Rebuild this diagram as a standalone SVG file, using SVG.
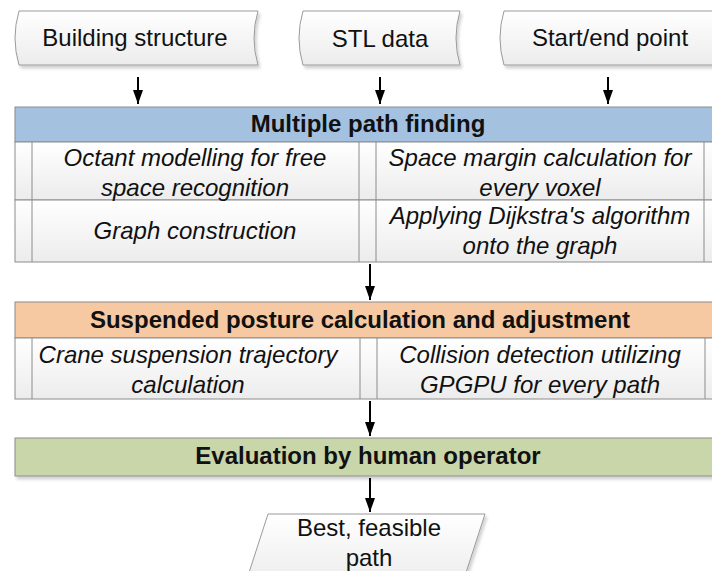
<svg xmlns="http://www.w3.org/2000/svg" width="712" height="571" viewBox="0 0 712 571">
<defs>
<linearGradient id="cellg" x1="0" y1="0" x2="0" y2="1">
<stop offset="0" stop-color="#ffffff"/>
<stop offset="1" stop-color="#ececec"/>
</linearGradient>
<filter id="sh" x="-5%" y="-20%" width="110%" height="150%">
<feDropShadow dx="2" dy="3" stdDeviation="1.5" flood-color="#000" flood-opacity="0.18"/>
</filter>
<marker id="ah" viewBox="0 0 14 10" refX="14" refY="5" markerWidth="14" markerHeight="10" markerUnits="userSpaceOnUse" orient="auto">
<path d="M0,0 L14,5 L0,10 Z" fill="#000"/>
</marker>
</defs>
<style>
.src{fill:url(#cellg);stroke:#9a9a9a;stroke-width:1}
.cell{fill:url(#cellg);stroke:#8c8c8c;stroke-width:1}
.ln{stroke:#8c8c8c;stroke-width:1;fill:none}
.hdr{stroke:#8c8c8c;stroke-width:1}
.t{font-family:"Liberation Sans",Arial,sans-serif;fill:#111;text-anchor:middle}
.lbl{font-size:24px}
.it{font-size:24px;font-style:italic}
.b{font-size:24px;font-weight:bold}
.con{stroke:#000;stroke-width:2;fill:none;marker-end:url(#ah)}
</style>
<rect width="712" height="571" fill="#fff"/>

<g id="building-structure">
<path class="src" filter="url(#sh)" d="M19,11 L258,11 Q250,38 258,65 L19,65 Q11,38 19,11 Z"/>
<text class="t lbl" x="135" y="46">Building structure</text>
</g>
<g id="stl-data">
<path class="src" filter="url(#sh)" d="M303,11 L460,11 Q452,38 460,65 L303,65 Q295,38 303,11 Z"/>
<text class="t lbl" x="380" y="47">STL data</text>
</g>
<g id="start-end-point">
<path class="src" filter="url(#sh)" d="M504,11 L720,11 L720,65 L504,65 Q496,38 504,11 Z"/>
<text class="t lbl" x="610" y="46">Start/end point</text>
</g>

<g id="multiple-path-finding">
<rect class="hdr" filter="url(#sh)" x="15" y="107" width="705" height="35" fill="#a4c2e0"/>
<text class="t b" x="368" y="132">Multiple path finding</text>
<rect class="cell" x="15" y="142" width="705" height="58"/>
<rect class="cell" x="15" y="200" width="705" height="62"/>
<line class="ln" x1="32" y1="142" x2="32" y2="262"/>
<line class="ln" x1="359" y1="142" x2="359" y2="262"/>
<line class="ln" x1="376" y1="142" x2="376" y2="262"/>
<line class="ln" x1="704" y1="142" x2="704" y2="262"/>
<text class="t it" x="195" y="166">Octant modelling for free</text>
<text class="t it" x="195" y="196">space recognition</text>
<text class="t it" x="540" y="166">Space margin calculation for</text>
<text class="t it" x="540" y="196">every voxel</text>
<text class="t it" x="195" y="239">Graph construction</text>
<text class="t it" x="540" y="224">Applying Dijkstra's algorithm</text>
<text class="t it" x="540" y="254">onto the graph</text>
</g>

<g id="suspended-posture">
<rect class="hdr" filter="url(#sh)" x="15" y="302" width="705" height="36" fill="#f6c9a2"/>
<text class="t b" x="360" y="328">Suspended posture calculation and adjustment</text>
<rect class="cell" x="15" y="338" width="705" height="61"/>
<line class="ln" x1="32" y1="338" x2="32" y2="399"/>
<line class="ln" x1="360" y1="338" x2="360" y2="399"/>
<line class="ln" x1="377" y1="338" x2="377" y2="399"/>
<line class="ln" x1="705" y1="338" x2="705" y2="399"/>
<text class="t it" x="188" y="363">Crane suspension trajectory</text>
<text class="t it" x="188" y="393">calculation</text>
<text class="t it" x="540" y="363">Collision detection utilizing</text>
<text class="t it" x="540" y="393">GPGPU for every path</text>
</g>

<g id="evaluation">
<rect class="hdr" filter="url(#sh)" x="15" y="438" width="705" height="38" fill="#c8d6aa"/>
<text class="t b" x="368" y="464">Evaluation by human operator</text>
</g>

<g id="best-path">
<path class="src" filter="url(#sh)" d="M268,514 L485,514 L462,585 L245,585 Z"/>
<text class="t lbl" x="369" y="536">Best, feasible</text>
<text class="t lbl" x="369" y="566">path</text>
</g>

<g id="connectors">
<line class="con" x1="138" y1="77" x2="138" y2="104"/>
<line class="con" x1="380" y1="77" x2="380" y2="104"/>
<line class="con" x1="608" y1="77" x2="608" y2="104"/>
<line class="con" x1="370" y1="264" x2="370" y2="300"/>
<line class="con" x1="370" y1="401" x2="370" y2="436"/>
<line class="con" x1="370" y1="478" x2="370" y2="512"/>
</g>
</svg>
